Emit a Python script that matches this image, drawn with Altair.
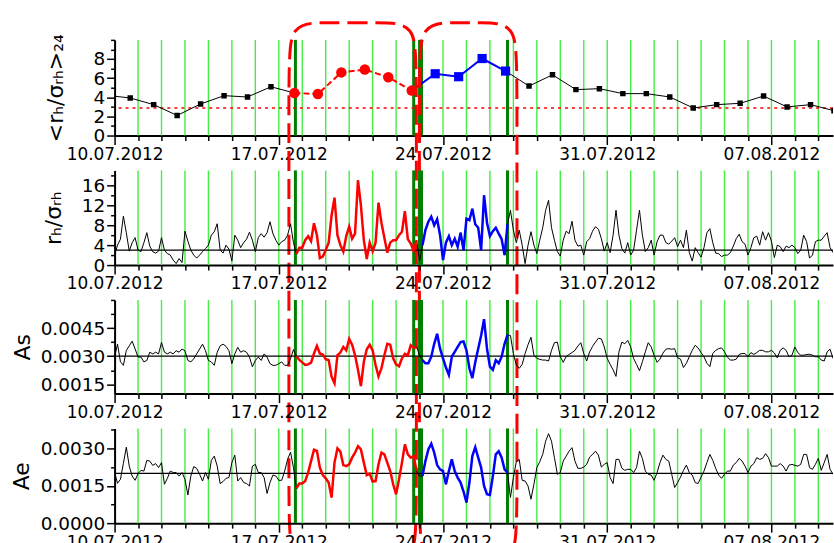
import altair as alt
import pandas as pd

# ---------------- data ----------------
START = "2012-07-10 00:00"
VIEW_END = alt.DateTime(year=2012, month=8, date=9, hours=15)
VIEW_START = alt.DateTime(year=2012, month=7, date=10, hours=0)

# daily mean <rh/sigma_rh>_24 (at 16:00 each day, from 09.07 to 09.08)
daily_vals = [4.2, 3.93, 3.23, 2.1, 3.3, 4.17, 4.03, 5.1,
              4.45, 4.34, 6.6, 6.9, 6.1, 4.7,
              6.46, 6.15, 8.05, 6.74,
              5.17, 6.35, 4.8, 4.9, 4.38, 4.38, 4.03, 2.88, 3.23, 3.37, 4.13, 2.99, 3.23, 2.6]
daily_threshold = 2.88

# 3-hourly r_h / sigma_rh
r_vals = [
    2.0, 4.0, 5.2, 9.8, 6.5, 2.8, 4.5, 5.5,
    3.0, 2.7, 4.5, 6.5, 3.8, 2.7, 2.4, 2.8,
    5.5, 3.0, 2.3, 2.0, 1.0, 0.3, 1.3, 0.5,
    6.8, 4.8, 3.0, 2.0, 1.4, 2.0, 2.7, 3.3,
    4.0, 6.0, 6.7, 8.3, 3.0, 2.4, 4.0, 3.2,
    0.8, 6.0, 5.0, 3.5, 4.5, 5.2, 6.6, 5.0,
    2.7, 5.5, 6.3, 5.6, 6.5, 8.7, 6.3, 5.0,
    4.0, 4.7, 5.0, 6.0, 8.3, 4.5, 2.2, 3.5,
    3.5, 5.0, 5.8, 4.8, 8.4, 6.0, 1.4, 1.7,
    3.0, 4.5, 10.0, 13.5, 6.0, 4.0, 2.7, 5.8,
    7.7, 5.3, 6.3, 17.0, 12.0, 5.0, 1.2, 4.5,
    2.8, 4.5, 12.5, 8.5, 5.5, 2.5, 4.5, 5.0,
    5.0, 6.0, 6.7, 10.8, 5.2, 4.3, 2.8, 5.0,
    0.8, 4.0, 7.0, 8.7, 9.7, 8.0, 9.2, 6.0,
    1.0, 4.5, 5.8, 4.0, 5.3, 3.7, 6.5, 3.0,
    9.3, 9.0, 11.3, 8.2, 7.5, 3.0, 14.0, 8.5,
    5.8, 6.8, 7.5, 6.3, 5.2, 2.0, 8.2, 11.0,
    7.0, 4.5, 7.0, 4.0, 0.3, 4.0, 6.7, 4.0,
    2.3, 5.0, 7.5, 11.0, 13.0, 7.5, 5.0, 2.7,
    1.8, 5.0, 6.8, 6.3, 8.8, 5.0, 3.8, 4.0,
    2.0, 4.7, 5.3, 6.8, 7.7, 7.2, 5.3, 2.8,
    4.5, 2.5, 6.0, 11.0, 6.0, 3.3, 2.4, 4.5,
    2.0, 3.0, 7.0, 11.0, 6.0, 2.7, 3.5, 5.0,
    2.0, 4.7, 6.0, 6.0, 4.5, 4.2, 4.8, 5.5,
    3.7, 5.0, 3.5, 7.0, 2.5, 0.8, 3.5, 2.5,
    1.6, 3.5, 6.5, 7.3, 4.5, 2.4, 2.3, 1.7,
    2.0, 2.0, 2.5, 3.8, 5.3, 6.2, 4.7, 4.2,
    2.0, 3.5, 5.5, 5.8, 4.0, 6.7, 5.0, 6.5,
    4.8, 1.5, 4.0, 3.7, 2.7, 3.8, 3.5, 4.0,
    3.5, 2.3, 3.0, 6.0, 4.7, 1.4, 2.0, 4.7,
    5.0, 5.0, 5.8, 6.5, 3.5, 2.5, 3.0,
]

as_vals = [
    0.00295, 0.00364, 0.00270, 0.00251, 0.00330, 0.00355, 0.00380, 0.00338,
    0.00295, 0.00295, 0.00269, 0.00277, 0.00321, 0.00312, 0.00321, 0.00312,
    0.00373, 0.00321, 0.00312, 0.00321, 0.00312, 0.00329, 0.00321, 0.00338,
    0.00329, 0.00277, 0.00269, 0.00286, 0.00312, 0.00338, 0.00364, 0.00329,
    0.00277, 0.00269, 0.00251, 0.00321, 0.00355, 0.00364, 0.00352, 0.00329,
    0.00260, 0.00312, 0.00347, 0.00321, 0.00329, 0.00321, 0.00295, 0.00243,
    0.00277, 0.00295, 0.00277, 0.00312, 0.00295, 0.00260, 0.00251, 0.00251,
    0.00260, 0.00269, 0.00251, 0.00251, 0.00286, 0.00335, 0.00300, 0.00280,
    0.00267, 0.00253, 0.00256, 0.00265, 0.00314, 0.00354, 0.00314, 0.00309,
    0.00284, 0.00279, 0.00190, 0.00155, 0.00305, 0.00319, 0.00349, 0.00331,
    0.00392, 0.00361, 0.00305, 0.00227, 0.00140, 0.00270, 0.00337, 0.00361,
    0.00331, 0.00253, 0.00192, 0.00235, 0.00305, 0.00366, 0.00361, 0.00288,
    0.00256, 0.00246, 0.00288, 0.00312, 0.00305, 0.00358, 0.00344, 0.00349,
    0.00305, 0.00279, 0.00262, 0.00262, 0.00297, 0.00366, 0.00419, 0.00340,
    0.00288, 0.00239, 0.00200, 0.00297, 0.00323, 0.00349, 0.00375, 0.00378,
    0.00331, 0.00235, 0.00183, 0.00267, 0.00340, 0.00410, 0.00497, 0.00340,
    0.00244, 0.00227, 0.00279, 0.00262, 0.00297, 0.00366, 0.00413, 0.00410,
    0.00314, 0.00253, 0.00235, 0.00256, 0.00314, 0.00361, 0.00401, 0.00305,
    0.00288, 0.00283, 0.00279, 0.00279, 0.00274, 0.00331, 0.00372, 0.00375,
    0.00297, 0.00267, 0.00297, 0.00309, 0.00319, 0.00331, 0.00354, 0.00372,
    0.00314, 0.00274, 0.00323, 0.00352, 0.00375, 0.00396, 0.00392, 0.00349,
    0.00288, 0.00256, 0.00227, 0.00192, 0.00323, 0.00375, 0.00366, 0.00384,
    0.00349, 0.00288, 0.00256, 0.00222, 0.00270, 0.00323, 0.00372, 0.00349,
    0.00305, 0.00267, 0.00284, 0.00316, 0.00337, 0.00340, 0.00337, 0.00340,
    0.00291, 0.00284, 0.00239, 0.00262, 0.00297, 0.00331, 0.00358, 0.00344,
    0.00319, 0.00297, 0.00262, 0.00244, 0.00314, 0.00331, 0.00340, 0.00344,
    0.00323, 0.00294, 0.00279, 0.00279, 0.00284, 0.00309, 0.00314, 0.00314,
    0.00297, 0.00319, 0.00309, 0.00319, 0.00331, 0.00331, 0.00323, 0.00323,
    0.00331, 0.00317, 0.00291, 0.00331, 0.00344, 0.00331, 0.00297, 0.00305,
    0.00349, 0.00319, 0.00305, 0.00305, 0.00309, 0.00310, 0.00305, 0.00297,
    0.00297, 0.00279, 0.00274, 0.00323, 0.00337, 0.00288, 0.00297,
]

ae_vals = [
    0.00203, 0.00160, 0.00176, 0.00240, 0.00305, 0.00229, 0.00189, 0.00172,
    0.00199, 0.00212, 0.00209, 0.00252, 0.00249, 0.00232, 0.00239, 0.00223,
    0.00243, 0.00156, 0.00180, 0.00209, 0.00203, 0.00203, 0.00189, 0.00203,
    0.00176, 0.00113, 0.00189, 0.00227, 0.00220, 0.00196, 0.00169, 0.00203,
    0.00176, 0.00252, 0.00269, 0.00229, 0.00159, 0.00167, 0.00180, 0.00183,
    0.00243, 0.00273, 0.00169, 0.00183, 0.00163, 0.00159, 0.00149, 0.00229,
    0.00236, 0.00203, 0.00203, 0.00183, 0.00119, 0.00163, 0.00193, 0.00189,
    0.00172, 0.00172, 0.00209, 0.00256, 0.00285, 0.00223, 0.00140, 0.00159,
    0.00159, 0.00169, 0.00203, 0.00249, 0.00295, 0.00290, 0.00223, 0.00193,
    0.00180, 0.00163, 0.00103, 0.00243, 0.00300, 0.00287, 0.00233, 0.00229,
    0.00236, 0.00263, 0.00283, 0.00309, 0.00296, 0.00243, 0.00193, 0.00199,
    0.00167, 0.00169, 0.00236, 0.00283, 0.00276, 0.00243, 0.00209, 0.00156,
    0.00116, 0.00176, 0.00243, 0.00316, 0.00276, 0.00263, 0.00269, 0.00209,
    0.00189, 0.00189, 0.00249, 0.00296, 0.00319, 0.00283, 0.00233, 0.00216,
    0.00209, 0.00156, 0.00209, 0.00256, 0.00209, 0.00183, 0.00163, 0.00127,
    0.00083, 0.00163, 0.00269, 0.00305, 0.00263, 0.00223, 0.00149, 0.00116,
    0.00113, 0.00189, 0.00276, 0.00289, 0.00263, 0.00216, 0.00203, 0.00103,
    0.00183, 0.00247, 0.00256, 0.00172, 0.00169, 0.00149, 0.00096, 0.00156,
    0.00223, 0.00247, 0.00276, 0.00329, 0.00359, 0.00329, 0.00263, 0.00196,
    0.00203, 0.00249, 0.00269, 0.00289, 0.00303, 0.00249, 0.00220, 0.00220,
    0.00225, 0.00236, 0.00265, 0.00276, 0.00289, 0.00273, 0.00225, 0.00236,
    0.00243, 0.00183, 0.00159, 0.00256, 0.00256, 0.00220, 0.00212, 0.00216,
    0.00216, 0.00203, 0.00223, 0.00289, 0.00260, 0.00209, 0.00196, 0.00193,
    0.00172, 0.00203, 0.00243, 0.00273, 0.00256, 0.00249, 0.00196, 0.00143,
    0.00163, 0.00185, 0.00212, 0.00233, 0.00203, 0.00193, 0.00163, 0.00159,
    0.00185, 0.00209, 0.00243, 0.00276, 0.00252, 0.00220, 0.00193, 0.00180,
    0.00196, 0.00209, 0.00209, 0.00233, 0.00243, 0.00260, 0.00249, 0.00229,
    0.00203, 0.00229, 0.00239, 0.00263, 0.00256, 0.00260, 0.00279, 0.00263,
    0.00229, 0.00229, 0.00229, 0.00239, 0.00229, 0.00209, 0.00233, 0.00236,
    0.00232, 0.00229, 0.00236, 0.00276, 0.00276, 0.00223, 0.00216, 0.00236,
    0.00260, 0.00212, 0.00243, 0.00276, 0.00216, 0.00196, 0.00203,
]

# axis tick values
y1_major, y1_minor = [0, 2, 4, 6, 8], [1, 3, 5, 7, 9, 10]
y2_major, y2_minor = [0, 4, 8, 12, 16], [2, 6, 10, 14, 18]
y3_major, y3_minor = [0.0015, 0.0030, 0.0045], [0.00225, 0.00375, 0.00525, 0.0060]
y4_major, y4_minor = [0.0, 0.0015, 0.0030], [0.00075, 0.00225, 0.00375]

# event intervals
red_start, red_end = "2012-07-17 18:00", "2012-07-22 21:00"
blue_start, blue_end = "2012-07-23 03:00", "2012-07-26 18:00"
event_lines = ["2012-07-17 17:00", "2012-07-22 18:00", "2012-07-23 00:00",
               "2012-07-23 02:00", "2012-07-26 18:00"]
# dashed annotation boxes (start, end) and vertical extent in top-panel units
boxes = [("2012-07-17 10:20", "2012-07-22 20:45"), ("2012-07-22 23:50", "2012-07-27 03:40")]
box_top, box_bottom = 11.8, -44.6
corner_h, corner_v = 40, 5.2   # hours, units

# ---------------- helpers ----------------
fmt = "%Y-%m-%dT%H:%M:%S"
times = pd.date_range(START, periods=len(r_vals), freq="3h")
tstr = times.strftime(fmt)

day_ticks = pd.date_range("2012-07-10", periods=31, freq="D")
major_days = [d for d in day_ticks if d.dayofweek == 1]
minor_days = [d for d in day_ticks if d.dayofweek != 1]
to_dt = lambda d: alt.DateTime(year=d.year, month=d.month, date=d.day)
green_df = pd.DataFrame({"t": day_ticks[1:].strftime(fmt)})
dark_df = pd.DataFrame({"t": pd.to_datetime(event_lines).strftime(fmt)})

FONT = "DejaVu Sans"
W = 721
AX = dict(domainWidth=2, tickWidth=1.5, domainColor="black", tickColor="black")

xscale = alt.Scale(domain=[VIEW_START, VIEW_END])
X = alt.X("t:T", scale=xscale, axis=alt.Axis(
    orient="bottom", values=[to_dt(d) for d in major_days], format="%d.%m.%Y",
    tickSize=9, labelFontSize=17, labelPadding=2, labelOverlap=False, labelFlush=False,
    title=None, **AX))
Xm = alt.X("t:T", scale=xscale, axis=alt.Axis(
    orient="bottom", values=[to_dt(d) for d in minor_days], labels=False, domain=False,
    tickSize=5, title=None, tickWidth=1.5, tickColor="black"))


def y_encs(title, domain, major, minor, fmt_=None, title_pad=6):
    sc = alt.Scale(domain=domain, nice=False, zero=False)
    kw = dict(orient="left", title=title, values=major, tickSize=8,
              labelFontSize=18.5, labelPadding=2, labelOverlap=False, labelFlush=False,
              titleFontSize=22, titleFontWeight="normal", titlePadding=title_pad, **AX)
    if fmt_:
        kw["format"] = fmt_
    Y = alt.Y("v:Q", scale=sc, axis=alt.Axis(**kw))
    Ym = alt.Y("v:Q", scale=sc, axis=alt.Axis(orient="left", values=minor, labels=False,
                                              domain=False, tickSize=4, title=None,
                                              tickWidth=1.5, tickColor="black"))
    return Y, Ym


def grid_layer():
    g = alt.Chart(green_df).mark_rule(color="#44ee44", strokeWidth=1.4).encode(x=Xm)
    d = alt.Chart(dark_df).mark_rule(color="#008000", strokeWidth=3).encode(x=Xm)
    return alt.layer(g, d)


def assemble(ref_layer, main_layers, height):
    return alt.layer(grid_layer(), ref_layer, alt.layer(*main_layers)).resolve_axis(
        x="independent", y="independent").properties(width=W, height=height)


def series_panel(vals, ref, Y, Ym, height):
    df = pd.DataFrame({"t": tstr, "v": vals})
    red = df[(times >= pd.Timestamp(red_start)) & (times <= pd.Timestamp(red_end))]
    blue = df[(times >= pd.Timestamp(blue_start)) & (times <= pd.Timestamp(blue_end))]
    refl = alt.Chart(pd.DataFrame({"v": [ref]})).mark_rule(color="black", strokeWidth=1.2).encode(y=Ym)
    blk = alt.Chart(df).mark_line(color="black", strokeWidth=1, clip=True).encode(x=X, y=Y)
    rl = alt.Chart(red).mark_line(color="#ff0000", strokeWidth=2.5, clip=True).encode(x=X, y=Y)
    bl = alt.Chart(blue).mark_line(color="#0000ff", strokeWidth=2.5, clip=True).encode(x=X, y=Y)
    return assemble(refl, [blk, rl, bl], height)


# ---------------- panel 1 ----------------
dtimes = pd.date_range("2012-07-09 16:00", periods=len(daily_vals), freq="D")
d1 = pd.DataFrame({"t": dtimes.strftime(fmt), "v": daily_vals})
Y1, Y1m = y_encs("<rₕ/σᵣₕ>₂₄", [0, 10], y1_major, y1_minor, title_pad=26)
seg_black_a = d1.iloc[0:9]
seg_red = d1.iloc[8:14]
seg_blue = d1.iloc[13:18]
seg_black_b = d1.iloc[17:]
pts_black = pd.concat([d1.iloc[0:8], d1.iloc[18:]])
pts_red = d1.iloc[8:14]
pts_blue = d1.iloc[14:18]

rows = []
for bi, (s, e) in enumerate(boxes):
    s, e = pd.Timestamp(s), pd.Timestamp(e)
    ch = pd.Timedelta(hours=corner_h)
    pts = [(s + ch, box_bottom), (s, box_bottom), (s, box_bottom + corner_v),
           (s, box_top - corner_v), (s, box_top), (s + ch, box_top),
           (e - ch, box_top), (e, box_top), (e, box_top - corner_v),
           (e, box_bottom + corner_v), (e, box_bottom), (e - ch, box_bottom)]
    for k, (tt, vv) in enumerate(pts):
        rows.append({"t": tt.strftime(fmt), "v": vv, "box": bi, "k": k})
box_df = pd.DataFrame(rows)

thr = alt.Chart(pd.DataFrame({"v": [daily_threshold]})).mark_rule(
    color="#ff0000", strokeWidth=1.5, strokeDash=[3, 4]).encode(y=Y1m)
la = alt.Chart(seg_black_a).mark_line(color="black", strokeWidth=1, clip=True).encode(x=X, y=Y1)
lb = alt.Chart(seg_black_b).mark_line(color="black", strokeWidth=1, clip=True).encode(x=X, y=Y1)
lr = alt.Chart(seg_red).mark_line(color="#ff0000", strokeWidth=2, strokeDash=[6, 3]).encode(x=X, y=Y1)
lbl = alt.Chart(seg_blue).mark_line(color="#0000ff", strokeWidth=2).encode(x=X, y=Y1)
pb = alt.Chart(pts_black).mark_point(shape="square", filled=True, color="black", size=30, opacity=1, clip=True).encode(x=X, y=Y1)
pr = alt.Chart(pts_red).mark_point(shape="circle", filled=True, color="#ff0000", size=110, opacity=1).encode(x=X, y=Y1)
pbl = alt.Chart(pts_blue).mark_point(shape="square", filled=True, color="#0000ff", size=85, opacity=1).encode(x=X, y=Y1)
boxl = alt.Chart(box_df).mark_line(color="#ff0000", strokeWidth=3, strokeDash=[20, 8],
                                   interpolate="basis", clip=False).encode(
    x=X, y=Y1, detail="box:N", order="k:Q")

p1 = assemble(thr, [la, lb, lr, lbl, pb, pr, pbl, boxl], 96)

Y2, Y2m = y_encs("rₕ/σᵣₕ", [0, 19], y2_major, y2_minor, title_pad=16)
p2 = series_panel(r_vals, 3, Y2, Y2m, 95)

Y3, Y3m = y_encs("As", [0.001, 0.006], y3_major, y3_minor, fmt_=".4f", title_pad=6)
p3 = series_panel(as_vals, 0.003, Y3, Y3m, 94)

Y4, Y4m = y_encs("Ae", [0, 0.0038], y4_major, y4_minor, fmt_=".4f", title_pad=7)
p4 = series_panel(ae_vals, 0.002, Y4, Y4m, 95)

chart = alt.vconcat(p1, p2, p3, p4, spacing=35, bounds="flush").properties(
    padding={"left": 10, "top": 15, "right": 0, "bottom": 0}
).configure(font=FONT).configure_view(stroke=None).configure_axis(
    labelColor="black", titleColor="black", grid=False, labelFont=FONT, titleFont=FONT
)

chart.save("out.html", embed_options={"renderer": "svg", "actions": False})
